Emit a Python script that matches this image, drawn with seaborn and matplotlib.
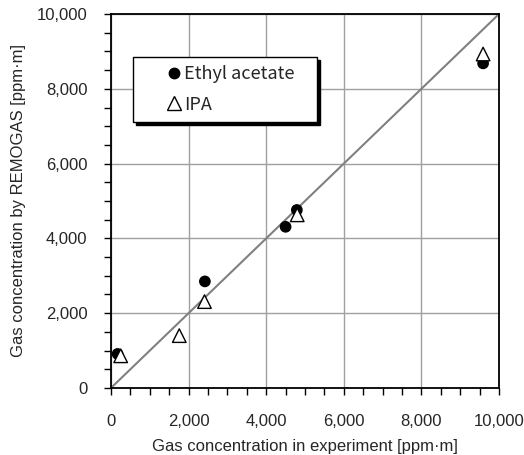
import matplotlib
matplotlib.use('Agg')
import numpy as np
import pandas as pd
import seaborn as sns
import matplotlib.pyplot as plt
from matplotlib.ticker import MultipleLocator, FuncFormatter

# measured vs simulated concentrations [ppm·m]
ethyl_exp = [170, 2420, 4500, 4790, 9590]
ethyl_sim = [910, 2850, 4310, 4760, 8680]
ipa_exp = [250, 1760, 2410, 4800, 9590]
ipa_sim = [860, 1400, 2310, 4630, 8930]
line_xy = [0, 10000]

df = pd.DataFrame({
    'exp': ethyl_exp + ipa_exp,
    'sim': ethyl_sim + ipa_sim,
    'gas': ['Ethyl acetate'] * len(ethyl_exp) + ['IPA'] * len(ipa_exp),
})

sns.set_style('white')
plt.rcParams['font.family'] = ['Liberation Sans', 'DejaVu Sans']

fig = plt.figure(figsize=(5.24, 4.55), dpi=100)
ax = fig.add_axes([0.2118, 0.1473, 0.7405, 0.8219])

sns.lineplot(x=line_xy, y=line_xy, color='#808080', lw=1.5, ax=ax, zorder=2)
sns.scatterplot(data=df, x='exp', y='sim', hue='gas', style='gas',
                palette={'Ethyl acetate': 'black', 'IPA': 'white'},
                markers={'Ethyl acetate': 'o', 'IPA': '^'},
                size='gas', sizes={'Ethyl acetate': 55, 'IPA': 95},
                edgecolor='black', linewidth=1, ax=ax, zorder=3, legend=False)

ax.set_xlim(0, 10000)
ax.set_ylim(0, 10000)
ax.xaxis.set_major_locator(MultipleLocator(2000))
ax.yaxis.set_major_locator(MultipleLocator(2000))
ax.xaxis.set_minor_locator(MultipleLocator(500))
ax.yaxis.set_minor_locator(MultipleLocator(500))
fmt = FuncFormatter(lambda v, p: f'{int(v):,}')
ax.xaxis.set_major_formatter(fmt)
ax.yaxis.set_major_formatter(fmt)
ax.grid(True, which='major', color='#a0a0a0', lw=1.0)
ax.tick_params(which='both', direction='out', length=5, width=1, color='black',
               bottom=True, left=True, labelsize=12)
ax.tick_params(axis='x', which='major', pad=14)
ax.tick_params(axis='y', which='major', pad=12)
for s in ax.spines.values():
    s.set_color('black')
    s.set_linewidth(1.3)

ax.set_xlabel('Gas concentration in experiment [ppm·m]', fontsize=12, labelpad=7)
ax.set_ylabel('Gas concentration by REMOGAS [ppm·m]', fontsize=12, labelpad=8)

# legend
h1 = plt.Line2D([], [], marker='o', ls='none', color='black', markersize=7.5)
h2 = plt.Line2D([], [], marker='^', ls='none', markerfacecolor='white',
                markeredgecolor='black', markersize=10, markeredgewidth=1)
leg = ax.legend([h1, h2], ['Ethyl acetate', 'IPA'], loc='upper left',
                bbox_to_anchor=(0.057, 0.0, 0.474, 0.885), mode='expand',
                fancybox=False, framealpha=1, edgecolor='black',
                shadow={'color': 'black', 'alpha': 1},
                prop={'family': ['Noto Sans CJK JP', 'DejaVu Sans'], 'size': 13},
                borderpad=0.45, handlelength=3.6, handletextpad=-1.25,
                labelspacing=0.7, borderaxespad=0)
leg.get_frame().set_linewidth(1.0)

fig.savefig('out.png', dpi=100)
